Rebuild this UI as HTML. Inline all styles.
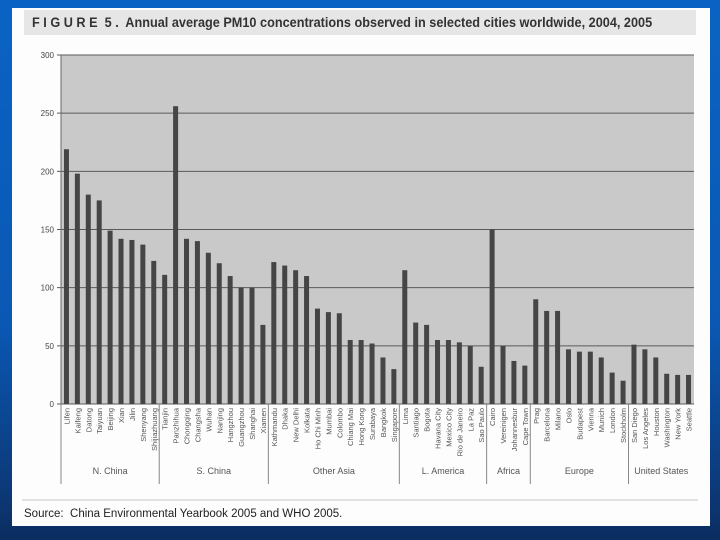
<!DOCTYPE html>
<html><head><meta charset="utf-8"><style>
body{margin:0;width:720px;height:540px;overflow:hidden;background:linear-gradient(180deg,#0a63c4 0%,#0a58b4 60%,#0c3a7a 90%,#0b2d60 100%);font-family:"Liberation Sans",sans-serif;}
#panel{position:absolute;left:12px;top:8px;width:698px;height:518px;background:#fdfdfd;}
#title{position:absolute;left:24px;top:10px;width:672px;height:25px;background:#e6e6e6;}
#title span{position:absolute;left:8px;top:0;line-height:25px;color:#333;font-size:13.5px;font-weight:bold;white-space:nowrap;transform:scaleX(0.94);transform-origin:left center;}
#src{position:absolute;left:24px;top:508px;font-size:11.5px;color:#222;}
#sep{position:absolute;left:22px;top:499px;width:676px;height:2px;background:#e2e2e2;}
svg{position:absolute;left:0;top:0;}
</style></head><body>
<div id="panel"></div>
<div id="title"><span>F I G U R E&nbsp; 5 .&nbsp; Annual average PM10 concentrations observed in selected cities worldwide, 2004, 2005</span></div>
<div id="sep"></div>
<div id="src">Source:&nbsp; China Environmental Yearbook 2005 and WHO 2005.</div>
<svg id="chart" width="720" height="540"></svg>
<script>
const cities=["Lifen","Kaifeng","Datong","Taiyuan","Beijing","Xian","Jilin","Shenyang","Shijiazhuang",
"Tianjin","Panzhihua","Chongqing","Changsha","Wuhan","Nanjing","Hangzhou","Guangzhou","Shanghai","Xiamen",
"Kathmandu","Dhaka","New Delhi","Kolkata","Ho Chi Minh","Mumbai","Colombo","Chiang Mai","Hong Kong","Surabaya","Bangkok","Singapore",
"Lima","Santiago","Bogota","Havana City","Mexico City","Rio de Janeiro","La Paz","Sao Paulo",
"Cairo","Vereinigen","Johannesbur","Cape Town",
"Prag","Barcelona","Milano","Oslo","Budapest","Vienna","Munich","London","Stockholm",
"San Diego","Los Angeles","Houston","Washington","New York","Seattle"];
const values=[219,198,180,175,149,142,141,137,123,
111,256,142,140,130,121,110,100,100,68,
122,119,115,110,82,79,78,55,55,52,40,30,
115,70,68,55,55,53,50,32,
150,50,37,33,
90,80,80,47,45,45,40,27,20,
51,47,40,26,25,25];
const groups=["N. China","S. China","Other Asia","L. America","Africa","Europe","United States"];
const groupSizes=[9,10,12,8,4,9,6];
const yTicks=[0,50,100,150,200,250,300];
const NS="http://www.w3.org/2000/svg";
const svg=document.getElementById('chart');
const L=61,R=694,T=55,B=404,YMAX=300;
const band=(R-L)/cities.length;
const y=v=>B-(v/YMAX)*(B-T);
const x=i=>L+band*i;
function mk(tag,attrs,parent){const e=document.createElementNS(NS,tag);for(const k in attrs)e.setAttribute(k,attrs[k]);(parent||svg).appendChild(e);return e;}
const bg=mk('rect',{x:L,y:T,width:R-L,height:B-T,fill:'#c9c9c9'});


yTicks.forEach(t=>{
  const g=mk('line',{x1:L-4,x2:R,y1:y(t),y2:y(t),stroke:'#5a5a5a','stroke-width':1});
  
  
  const tx=mk('text',{x:L-7,y:y(t)+3,'text-anchor':'end','font-size':8,fill:'#444'});
  tx.textContent=t;
  
  
});
const ax=mk('line',{x1:L,x2:L,y1:T,y2:B,stroke:'#666','stroke-width':1});


values.forEach((v,i)=>{
  const bw=5;
  const r=mk('rect',{x:x(i)+band/2-bw/2,y:y(v),width:bw,height:B-y(v),fill:'#454545'});
  
  
  const cx=x(i)+band/2+3;
  const t=mk('text',{x:0,y:0,'text-anchor':'end','font-size':7.5,fill:'#555',transform:`translate(${cx},${B+4}) rotate(-90)`,'font-family':'"Liberation Sans Narrow","Liberation Sans",sans-serif'});
  t.textContent=cities[i];
  
  
});
let start=0;
const sepLine=(xx)=>{const s=mk('line',{x1:xx,x2:xx,y1:B,y2:484,stroke:'#888','stroke-width':1});
  
  };
sepLine(L);
groups.forEach((g,gi)=>{
  const end=start+groupSizes[gi];
  const gx=(x(start)+x(end))/2;
  const t=mk('text',{x:gx,y:474,'text-anchor':'middle','font-size':9,fill:'#555','font-family':'"Liberation Sans Narrow","Liberation Sans",sans-serif'});
  t.textContent=g;
  
  
  if(gi<groups.length-1)sepLine(x(end));
  start=end;
});
</script>
</body></html>
